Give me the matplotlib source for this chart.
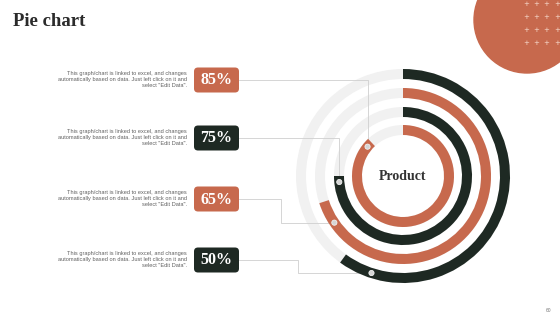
import matplotlib
matplotlib.use("Agg")
import matplotlib.pyplot as plt
from matplotlib.patches import Wedge, Circle, FancyBboxPatch
import numpy as np

# ---- data ----
labels = ["85%", "75%", "65%", "50%"]           # label boxes, top to bottom
ring_values = [0.88, 0.75, 0.70, 0.60]            # arc extent per ring, inner to outer
dot_values = [0.86, 0.735, 0.655, 0.55]           # marker position on each ring
desc = ('This graph/chart is linked to excel, and changes\n'
        'automatically based on data. Just left click on it and\n'
        'select "Edit Data".')
title = "Pie chart"
center_label = "Product"
page_no = "60"

ORANGE = "#C7694D"
DARK = "#1E2923"
TRACK = "#F1F1F1"
LINE = "#CFCFCF"
ring_colors = [ORANGE, DARK, ORANGE, DARK]

# ---- layout (pixels) ----
W, H = 560, 315
cx, cy = 403, 176
ring_outer = [51, 69, 88, 107]
ring_w = 10
box_y = [80, 138, 199, 260]
box_x0, box_w, box_h = 194, 45, 25
elbow_x = [None, None, 281, 298]

fig = plt.figure(figsize=(W / 100, H / 100), dpi=100)
ax = fig.add_axes([0, 0, 1, 1])
ax.set_xlim(0, W)
ax.set_ylim(H, 0)
ax.axis("off")

# decorative circle top right
ax.add_patch(Circle((527, 20), 53, color=ORANGE, zorder=1))
for yy in [4, 17, 30, 43]:
    for xx in [526, 536, 546, 557]:
        ax.text(xx, yy, "+", color="#F6D9CC", fontsize=5, ha="center", va="center",
                family="DejaVu Sans", zorder=2)

# title
ax.text(13, 21, title, fontsize=13.5, fontweight="bold", family="Liberation Serif",
        color="#2b2b2b", va="center", ha="left")

# rings
dot_xy = []
for r, v, d, c in zip(ring_outer, ring_values, dot_values, ring_colors):
    ax.add_patch(Wedge((cx, cy), r, 0, 360, width=ring_w, color=TRACK, zorder=2, lw=0))
    ax.add_patch(Wedge((cx, cy), r, -90, -90 + 360 * v, width=ring_w, color=c, zorder=3, lw=0))
    ang = np.deg2rad(-90 + 360 * d)
    rm = r - ring_w / 2
    dot_xy.append((cx + rm * np.cos(ang), cy + rm * np.sin(ang)))

ax.text(cx, cy, center_label, fontsize=10, fontweight="bold", family="Liberation Serif",
        color="#333333", ha="center", va="center", zorder=5)

# label boxes, descriptions and connectors (box i -> ring i from inside)
for i, (lab, by) in enumerate(zip(labels, box_y)):
    col = ORANGE if i % 2 == 0 else DARK
    ax.add_patch(FancyBboxPatch((box_x0, by - box_h / 2), box_w, box_h,
                                boxstyle="round,pad=0,rounding_size=4",
                                fc=col, ec="none", zorder=4))
    ax.text(box_x0 + box_w / 2, by + 0.5, lab, fontsize=11.5, fontweight="bold",
            family="Liberation Serif", color="white", ha="center", va="center", zorder=5)
    ax.text(187, by - 0.5, desc, fontsize=4.1, family="Liberation Sans", color="#606060",
            ha="right", va="center", linespacing=1.3, zorder=5)
    dx, dy = dot_xy[i]
    x_start = box_x0 + box_w
    if elbow_x[i] is None:
        xs = [x_start, dx, dx]
        ys = [by, by, dy]
    else:
        ex = elbow_x[i]
        xs = [x_start, ex, ex, dx]
        ys = [by, by, dy, dy]
    ax.plot(xs, ys, color=LINE, lw=0.6, zorder=2.5)
    ax.add_patch(Circle((dx, dy), 2.6, fc="#D5D5D5", ec="#F2F2F2", lw=0.6, zorder=6))

ax.text(549, 310, page_no, fontsize=3.5, color="#777777", ha="center", va="center",
        family="Liberation Sans")

fig.savefig("out.png", dpi=100)
